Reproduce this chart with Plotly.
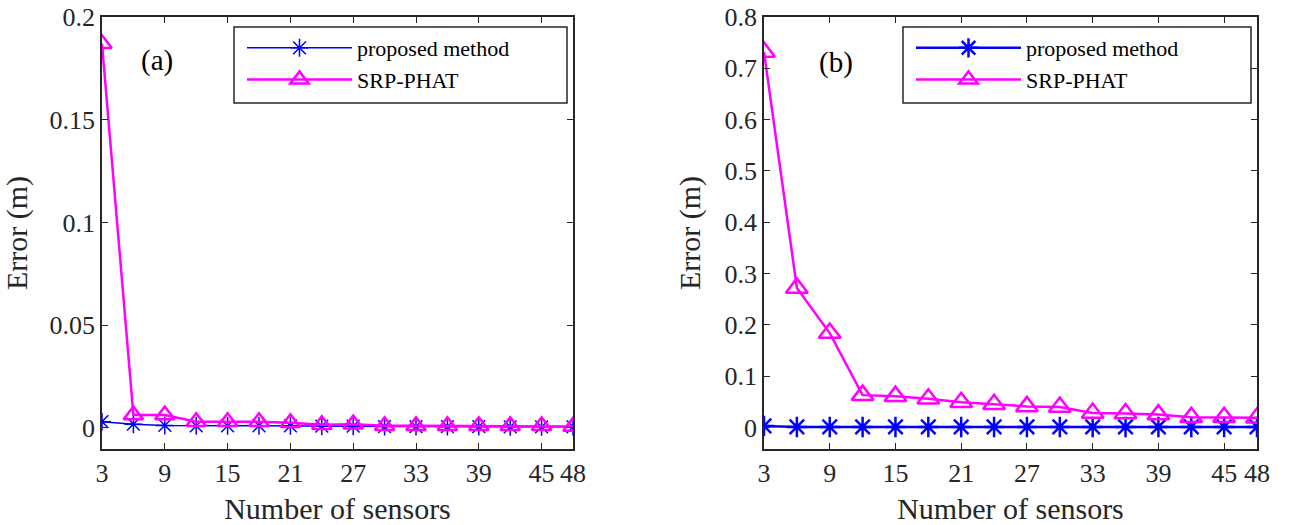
import plotly.graph_objects as go

sensors = [3, 6, 9, 12, 15, 18, 21, 24, 27, 30, 33, 36, 39, 42, 45, 48]

# (a)
prop_a = [0.003, 0.0018, 0.0012, 0.001, 0.001, 0.001, 0.001, 0.0008, 0.0008, 0.0006,
          0.0006, 0.0006, 0.0006, 0.0005, 0.0005, 0.0005]
srp_a = [0.187, 0.0062, 0.0062, 0.003, 0.003, 0.003, 0.0025, 0.0015, 0.0018, 0.001,
         0.001, 0.001, 0.001, 0.001, 0.001, 0.0007]

# (b)
prop_b = [0.003, 0.001, 0.001, 0.001, 0.001, 0.001, 0.001, 0.001, 0.001, 0.001,
          0.001, 0.001, 0.001, 0.001, 0.001, 0.001]
srp_b = [0.732, 0.272, 0.184, 0.063, 0.061, 0.056, 0.049, 0.045, 0.041, 0.040,
         0.028, 0.027, 0.025, 0.020, 0.020, 0.019]

xticks = [3, 9, 15, 21, 27, 33, 39, 45, 48]
yticks_a = [0, 0.05, 0.1, 0.15, 0.2]
yticks_a_text = ["0", "0.05", "0.1", "0.15", "0.2"]
yticks_b = [0, 0.1, 0.2, 0.3, 0.4, 0.5, 0.6, 0.7, 0.8]
yticks_b_text = ["0", "0.1", "0.2", "0.3", "0.4", "0.5", "0.6", "0.7", "0.8"]

BLUE = "#0000FF"
MAG = "#FF00FF"
AX = "#262626"
FONT = "Liberation Serif"

fig = go.Figure()

fig.add_trace(go.Scatter(x=sensors, y=prop_a, mode="lines+markers", name="proposed method",
                         line=dict(color=BLUE, width=1.5),
                         marker=dict(symbol="asterisk-open", size=15, line=dict(color=BLUE, width=1.5)),
                         xaxis="x", yaxis="y", legend="legend"))
fig.add_trace(go.Scatter(x=sensors, y=srp_a, mode="lines+markers", name="SRP-PHAT",
                         line=dict(color=MAG, width=2.5),
                         marker=dict(symbol="triangle-up-open", size=17, line=dict(color=MAG, width=2.5)),
                         xaxis="x", yaxis="y", legend="legend"))
fig.add_trace(go.Scatter(x=sensors, y=prop_b, mode="lines+markers", name="proposed method",
                         line=dict(color=BLUE, width=2.5),
                         marker=dict(symbol="asterisk-open", size=17, line=dict(color=BLUE, width=2.5)),
                         xaxis="x2", yaxis="y2", legend="legend2"))
fig.add_trace(go.Scatter(x=sensors, y=srp_b, mode="lines+markers", name="SRP-PHAT",
                         line=dict(color=MAG, width=2.5),
                         marker=dict(symbol="triangle-up-open", size=19, line=dict(color=MAG, width=2.5)),
                         xaxis="x2", yaxis="y2", legend="legend2"))

axis_common = dict(showline=True, mirror="ticks", linecolor=AX, linewidth=1.5,
                   ticks="inside", ticklen=6, tickcolor=AX, tickwidth=1.2,
                   showgrid=False, zeroline=False, automargin=False,
                   tickfont=dict(family=FONT, size=26, color=AX))

ydom = [76 / 525, 508 / 525]
title_font = dict(family=FONT, size=30, color=AX)
leg_common = dict(xanchor="left", yanchor="top", y=(525 - 27) / 525,
                  bgcolor="rgba(0,0,0,0)", borderwidth=0,
                  font=dict(family=FONT, size=22, color="black"), itemwidth=105,
                  tracegroupgap=0)

fig.update_layout(
    width=1296, height=525,
    margin=dict(l=0, r=0, t=0, b=0),
    plot_bgcolor="white", paper_bgcolor="white",
    font=dict(family=FONT, color=AX),
    xaxis=dict(domain=[102 / 1296, 573 / 1296], range=[3, 48], tickvals=xticks,
               title=dict(text="Number of sensors", font=title_font),
               anchor="y", **axis_common),
    yaxis=dict(domain=ydom, range=[-0.0103, 0.2], tickvals=yticks_a, ticktext=yticks_a_text,
               title=dict(text="Error (m)", font=title_font),
               anchor="x", **axis_common),
    xaxis2=dict(domain=[764 / 1296, 1257 / 1296], range=[3, 48], tickvals=xticks,
                title=dict(text="Number of sensors", font=title_font),
                anchor="y2", **axis_common),
    yaxis2=dict(domain=ydom, range=[-0.042, 0.8], tickvals=yticks_b, ticktext=yticks_b_text,
                title=dict(text="Error (m)", font=title_font),
                anchor="x2", **axis_common),
    legend=dict(x=242 / 1296, **leg_common),
    legend2=dict(x=911 / 1296, **leg_common),
    shapes=[
        dict(type="rect", xref="paper", yref="paper", layer="above",
             x0=234 / 1296, x1=567 / 1296, y0=(525 - 103) / 525, y1=(525 - 27) / 525,
             line=dict(color=AX, width=1.5), fillcolor="white"),
        dict(type="rect", xref="paper", yref="paper", layer="above",
             x0=903 / 1296, x1=1251 / 1296, y0=(525 - 103) / 525, y1=(525 - 27) / 525,
             line=dict(color=AX, width=1.5), fillcolor="white"),
    ],
    annotations=[
        dict(text="(a)", x=157 / 1296, y=(525 - 60) / 525, xref="paper", yref="paper",
             xanchor="center", yanchor="middle",
             showarrow=False, font=dict(family=FONT, size=29, color="black")),
        dict(text="(b)", x=836 / 1296, y=(525 - 62) / 525, xref="paper", yref="paper",
             xanchor="center", yanchor="middle",
             showarrow=False, font=dict(family=FONT, size=29, color="black")),
    ],
)

fig.write_html("out.html")
